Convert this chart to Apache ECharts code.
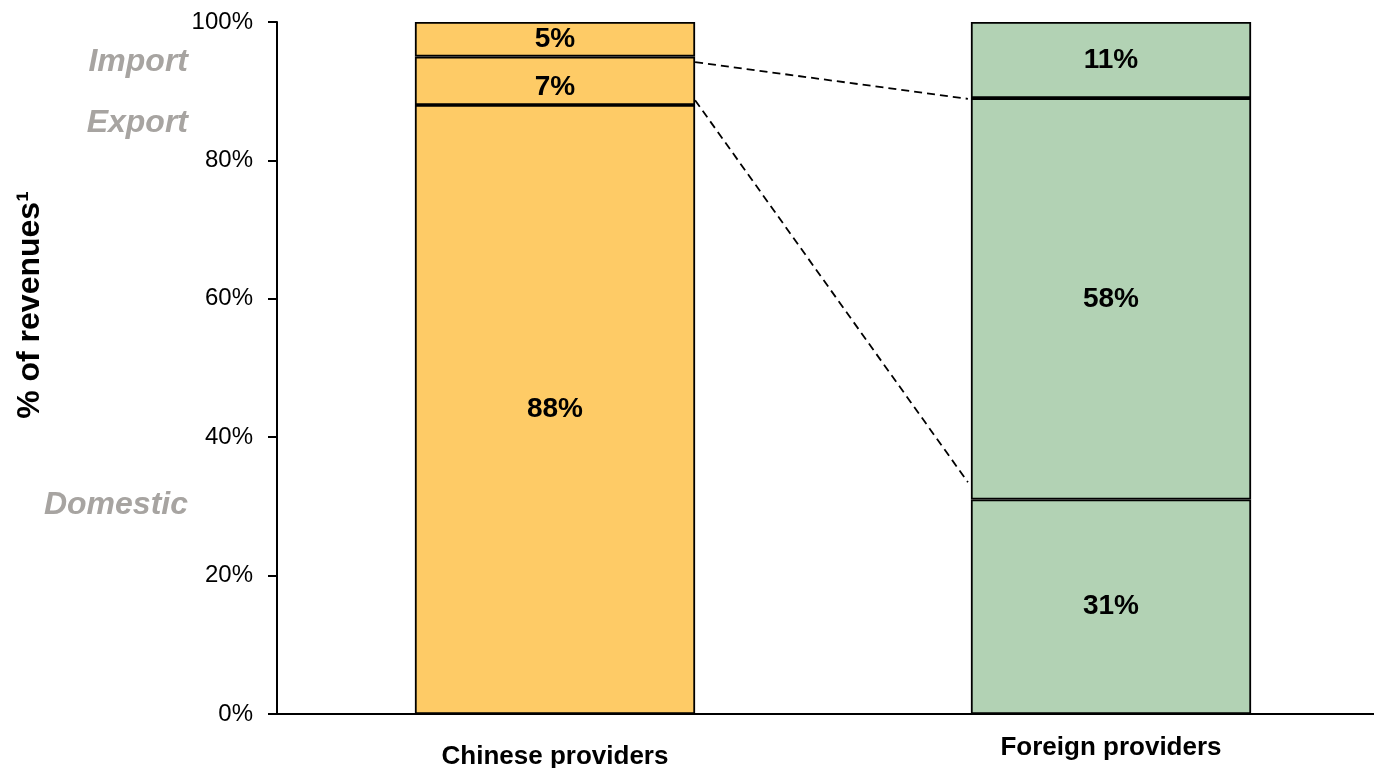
<!DOCTYPE html>
<html>
<head>
<meta charset="utf-8">
<script src="https://cdn.jsdelivr.net/npm/echarts@6/dist/echarts.min.js"></script>
<style>html,body{margin:0;padding:0;background:#fff;overflow:hidden}#c{width:1374px;height:768px}</style>
</head>
<body>
<div id="c"></div>
<script>
const categories = ['Chinese providers', 'Foreign providers'];
const domestic = [88, 31];
const exportShare = [7, 58];
const importShare = [5, 11];
const yTicks = [0, 20, 40, 60, 80, 100];
// connector lines: [value at Chinese bar right edge, value at Foreign bar left edge]
const connectors = [[94.2, 88.9], [88.7, 33.5]];
const sideLabels = [['Import', 62], ['Export', 123], ['Domestic', 505]];

const FONT = '"Liberation Sans", Arial, sans-serif';
const barColors = ['#FECB66', '#B2D2B4'];
const border = {borderColor: '#000', borderWidth: 1.8};
const BAR_FRAC = 0.504;

function segSeries(name, values, labelOffsets) {
  return {
    name, type: 'bar', stack: 'total', barWidth: (BAR_FRAC * 100) + '%',
    data: values.map((v, i) => ({
      value: v,
      itemStyle: Object.assign({color: barColors[i]}, border),
      label: labelOffsets && labelOffsets[i] ? {offset: labelOffsets[i]} : undefined
    })),
    label: {show: true, position: 'inside', formatter: '{c}%', color: '#000',
      fontFamily: FONT, fontWeight: 'bold', fontSize: 28},
    z: 2
  };
}

const chart = echarts.init(document.getElementById('c'), null, {renderer: 'canvas'});
chart.setOption({
  animation: false,
  backgroundColor: '#fff',
  grid: {left: 277, top: 22, bottom: 54, width: 1112, containLabel: false, outerBoundsMode: 'none'},
  xAxis: {
    type: 'category', data: categories,
    axisLine: {lineStyle: {color: '#000', width: 2}},
    axisTick: {show: false},
    axisLabel: {
      margin: 17,
      formatter: (v, i) => i === 0 ? '{a|' + v + '}' : '{b|' + v + '}',
      rich: {
        a: {fontFamily: FONT, fontWeight: 'bold', fontSize: 26, color: '#000', padding: [13, 0, 0, 0]},
        b: {fontFamily: FONT, fontWeight: 'bold', fontSize: 26, color: '#000', padding: [4, 0, 0, 0]}
      }
    }
  },
  yAxis: {
    type: 'value', min: yTicks[0], max: yTicks[yTicks.length - 1], interval: 20,
    axisLine: {show: true, lineStyle: {color: '#000', width: 2}},
    axisTick: {show: true, length: 9, lineStyle: {color: '#000', width: 2}},
    splitLine: {show: false},
    axisLabel: {formatter: '{value}%', margin: 24, color: '#000', fontFamily: FONT, fontSize: 24}
  },
  graphic: [
    {type: 'text', x: 30, y: 305, rotation: Math.PI / 2,
      style: {text: '% of revenues¹', fontFamily: FONT, fontWeight: 'bold', fontSize: 32,
        fill: '#000', align: 'center', verticalAlign: 'middle'}}
  ].concat(sideLabels.map(([t, y]) => ({
    type: 'text', x: 188, y: y,
    style: {text: t, fontFamily: FONT, fontWeight: 'bold', fontStyle: 'italic', fontSize: 32,
      fill: '#A7A4A1', align: 'right', verticalAlign: 'middle'}
  }))),
  series: [
    segSeries('Domestic', domestic),
    segSeries('Export', exportShare, [[0, 6], null]),
    segSeries('Import', importShare),
    {
      type: 'custom', name: 'connectors',
      data: connectors.map((c) => [0, c[0], c[1]]),
      encode: {x: 0, y: [1, 2]},
      renderItem: function (params, api) {
        const band = api.size([1, 0])[0];
        const half = band * BAR_FRAC / 2;
        const p0 = api.coord([0, api.value(1)]);
        const p1 = api.coord([1, api.value(2)]);
        return {
          type: 'line',
          shape: {x1: p0[0] + half, y1: p0[1], x2: p1[0] - half - 3, y2: p1[1]},
          style: {stroke: '#000', lineWidth: 1.8, lineDash: [8, 5]}
        };
      },
      z: 3
    }
  ]
});
</script>
</body>
</html>
